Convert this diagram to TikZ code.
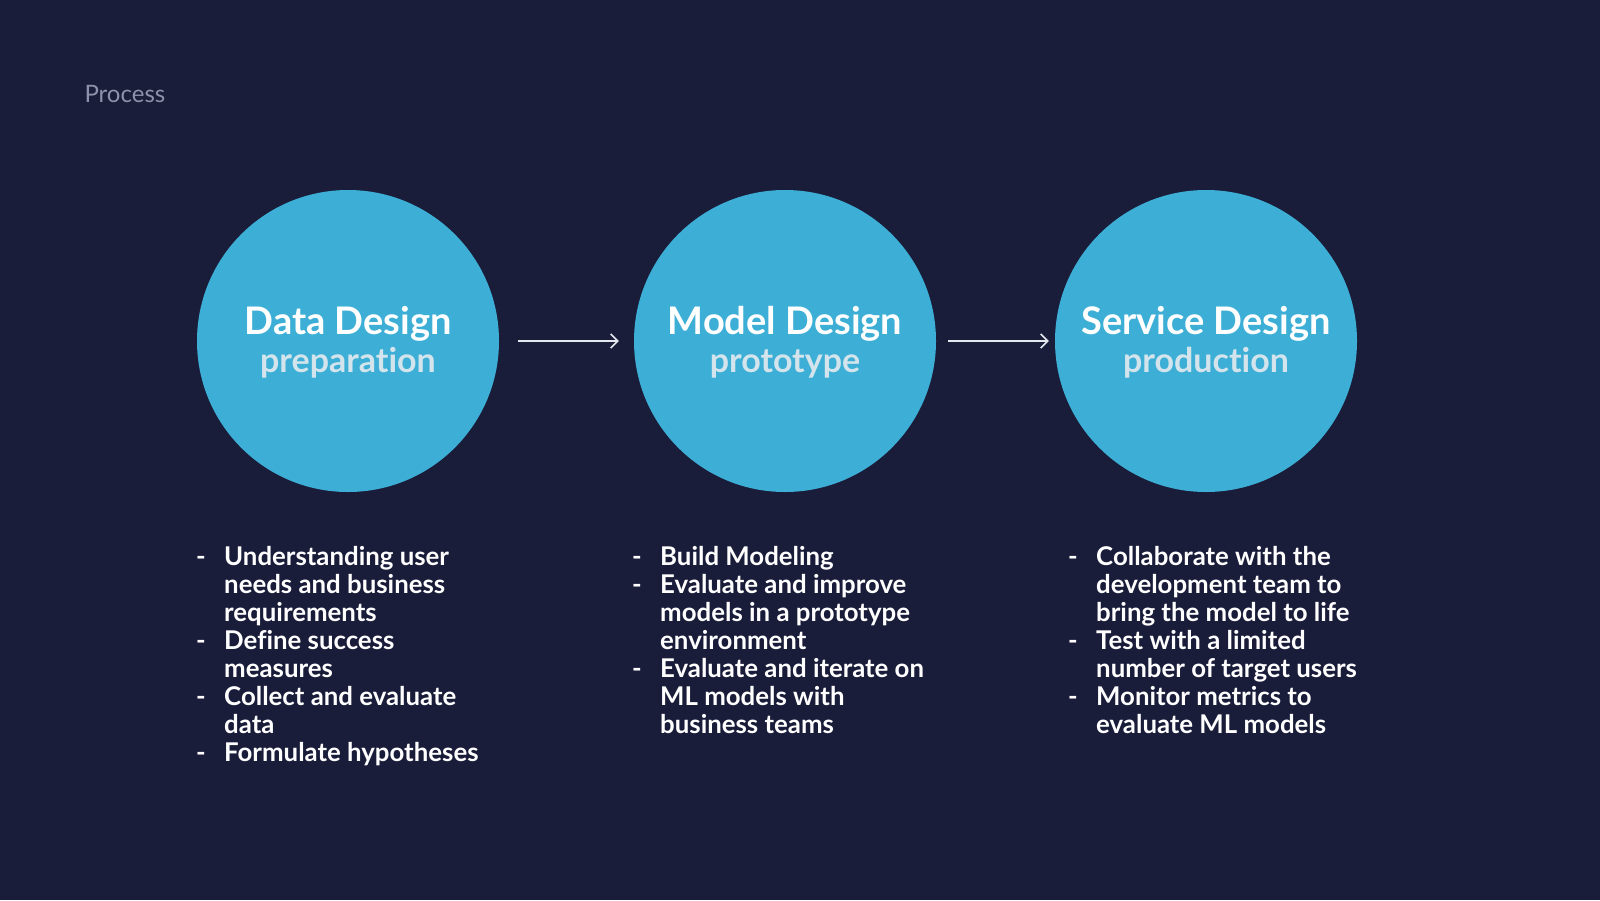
\documentclass[tikz,border=0pt]{standalone}
\usepackage{fontspec}
\setmainfont{Lato}[Ligatures={NoCommon,NoRare,NoDiscretionary}]
\usetikzlibrary{arrows.meta}
\definecolor{bg}{HTML}{1A1D3A}
\definecolor{disc}{HTML}{3DAFD6}
\definecolor{subc}{HTML}{D3E4EC}
\definecolor{greyt}{HTML}{8D92AA}
\definecolor{arr}{HTML}{E6E8F0}
\tikzset{
  stage/.style={circle, fill=disc, minimum size=302pt, inner sep=0pt},
  label/.style={align=center, text=white, font=\fontsize{38}{38}\selectfont\bfseries},
  flow/.style={draw=arr, line width=1.8pt, -{Straight Barb[length=7pt,width=14pt,line width=1.6pt]}},
  items/.style={anchor=north west, inner sep=0pt, align=left, text=white,
    font=\fontsize{25.8}{28}\selectfont\bfseries},
}
\newcommand{\dsh}{\makebox[28pt][l]{-}}
\newcommand{\ind}{\hspace*{28pt}}
\newcommand{\subt}[1]{{\fontsize{34}{38}\selectfont\color{subc}#1}}
\begin{document}
\begin{tikzpicture}[x=1pt,y=-1pt]
\fill[bg] (0,0) rectangle (1600,900);
\useasboundingbox (0,0) rectangle (1600,900);
\node[anchor=west, text=greyt, font=\fontsize{24}{26}\selectfont] (title) at (81,94) {Process};
\node[stage] (c1) at (348,341) {};
\node[stage] (c2) at (785,341) {};
\node[stage] (c3) at (1206,341) {};
\node[label] (t1) at (348,342) {Data Design\\\subt{preparation}};
\node[label] (t2) at (785,342) {Model Design\\\subt{prototype}};
\node[label] (t3) at (1206,342) {Service Design\\\subt{production}};
\draw[flow, shorten <=19pt, shorten >=15pt] (c1) -- (c2);
\draw[flow, shorten <=12pt, shorten >=6pt] (c2) -- (c3);
\node[items] (l1) at (196,546) {\dsh Understanding user\\\ind needs and business\\\ind requirements\\\dsh Define success\\\ind measures\\\dsh Collect and evaluate\\\ind data\\\dsh Formulate hypotheses};
\node[items] (l2) at (632,546) {\dsh Build Modeling\\\dsh Evaluate and improve\\\ind models in a prototype\\\ind environment\\\dsh Evaluate and iterate on\\\ind ML models with\\\ind business teams};
\node[items] (l3) at (1068,546) {\dsh Collaborate with the\\\ind development team to\\\ind bring the model to life\\\dsh Test with a limited\\\ind number of target users\\\dsh Monitor metrics to\\\ind evaluate ML models};
\end{tikzpicture}
\end{document}
